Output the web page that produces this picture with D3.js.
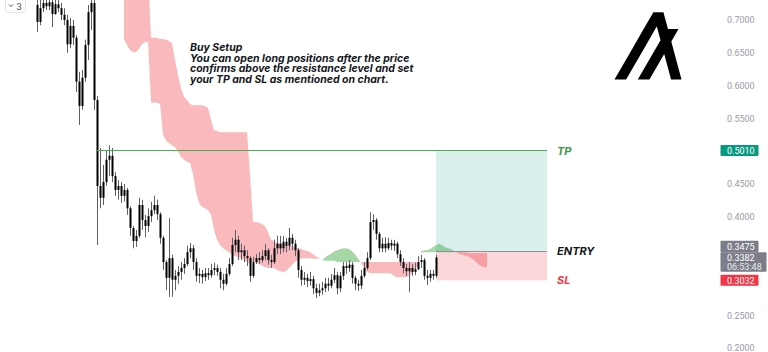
<!DOCTYPE html>
<html>
<head>
<meta charset="utf-8">
<script src="https://cdn.jsdelivr.net/npm/d3@7"></script>
<style>
  body { margin: 0; background: #fff; overflow: hidden; }
  svg { display: block; font-family: Roboto, "Noto Sans", sans-serif; }
</style>
</head>
<body>
<svg id="chart" width="768" height="352"></svg>
<script>
// candles, oldest first (ALGO)
const open = [0.723,0.697,0.718,0.726,0.721,0.727,0.709,0.724,0.718,0.708,
  0.700,0.663,0.691,0.673,0.606,0.569,0.612,0.662,0.712,0.726,
  0.578,0.447,0.429,0.453,0.487,0.493,0.462,0.441,0.447,0.432,
  0.441,0.413,0.383,0.363,0.371,0.418,0.395,0.386,0.401,0.410,
  0.418,0.404,0.368,0.331,0.307,0.337,0.304,0.310,0.316,0.322,
  0.328,0.346,0.352,0.331,0.310,0.313,0.308,0.314,0.311,0.319,
  0.322,0.316,0.304,0.298,0.313,0.328,0.357,0.365,0.346,0.349,
  0.340,0.337,0.310,0.331,0.337,0.334,0.340,0.349,0.334,0.331,
  0.352,0.359,0.352,0.362,0.356,0.368,0.359,0.349,0.319,0.304,
  0.307,0.302,0.305,0.291,0.284,0.288,0.291,0.298,0.295,0.304,
  0.311,0.291,0.310,0.325,0.322,0.327,0.307,0.298,0.295,0.310,
  0.322,0.337,0.392,0.395,0.374,0.352,0.359,0.352,0.360,0.356,
  0.359,0.343,0.331,0.322,0.317,0.322,0.316,0.320,0.331,0.334,
  0.310,0.307,0.313,0.310];
const high = [0.746,0.738,0.746,0.743,0.740,0.737,0.735,0.734,0.726,0.718,
  0.708,0.703,0.700,0.677,0.621,0.624,0.670,0.723,0.743,0.735,
  0.584,0.505,0.479,0.502,0.509,0.505,0.468,0.456,0.453,0.450,
  0.444,0.416,0.386,0.380,0.429,0.426,0.403,0.413,0.423,0.432,
  0.426,0.407,0.371,0.334,0.398,0.342,0.319,0.325,0.331,0.337,
  0.356,0.360,0.357,0.337,0.322,0.319,0.322,0.322,0.328,0.330,
  0.327,0.322,0.313,0.322,0.337,0.368,0.380,0.371,0.359,0.356,
  0.349,0.340,0.339,0.343,0.346,0.349,0.359,0.352,0.342,0.365,
  0.371,0.371,0.371,0.368,0.383,0.374,0.365,0.352,0.325,0.316,
  0.313,0.316,0.310,0.298,0.298,0.301,0.307,0.307,0.313,0.322,
  0.316,0.316,0.331,0.331,0.334,0.331,0.310,0.304,0.319,0.331,
  0.346,0.407,0.404,0.398,0.377,0.368,0.369,0.368,0.365,0.365,
  0.362,0.349,0.337,0.328,0.331,0.328,0.330,0.340,0.342,0.337,
  0.319,0.319,0.319,0.342];
const low = [0.682,0.692,0.712,0.715,0.715,0.689,0.708,0.712,0.700,0.692,
  0.650,0.657,0.662,0.590,0.540,0.563,0.606,0.639,0.685,0.563,
  0.357,0.413,0.418,0.447,0.462,0.453,0.432,0.426,0.421,0.423,
  0.403,0.371,0.352,0.354,0.368,0.380,0.369,0.377,0.392,0.404,
  0.395,0.359,0.319,0.288,0.278,0.278,0.288,0.298,0.304,0.313,
  0.325,0.337,0.319,0.301,0.299,0.298,0.302,0.304,0.307,0.311,
  0.310,0.291,0.288,0.295,0.310,0.325,0.346,0.334,0.334,0.331,
  0.325,0.301,0.307,0.328,0.328,0.330,0.334,0.327,0.322,0.328,
  0.343,0.343,0.346,0.346,0.349,0.349,0.340,0.307,0.295,0.296,
  0.293,0.295,0.282,0.276,0.279,0.281,0.285,0.287,0.291,0.299,
  0.282,0.285,0.304,0.313,0.316,0.298,0.288,0.287,0.290,0.307,
  0.319,0.334,0.380,0.365,0.346,0.346,0.346,0.349,0.349,0.348,
  0.337,0.325,0.314,0.310,0.285,0.310,0.311,0.319,0.322,0.304,
  0.296,0.301,0.304,0.307];
const close = [0.697,0.718,0.726,0.721,0.727,0.709,0.724,0.718,0.708,0.700,
  0.663,0.691,0.673,0.606,0.569,0.612,0.662,0.712,0.726,0.578,
  0.447,0.429,0.453,0.487,0.493,0.462,0.441,0.447,0.432,0.441,
  0.413,0.383,0.363,0.371,0.418,0.395,0.386,0.401,0.410,0.418,
  0.404,0.368,0.331,0.307,0.337,0.304,0.310,0.316,0.322,0.328,
  0.346,0.352,0.331,0.310,0.313,0.308,0.314,0.311,0.319,0.322,
  0.316,0.304,0.298,0.313,0.328,0.357,0.365,0.346,0.349,0.340,
  0.337,0.310,0.331,0.337,0.334,0.340,0.349,0.334,0.331,0.352,
  0.359,0.352,0.362,0.356,0.368,0.359,0.349,0.319,0.304,0.307,
  0.302,0.305,0.291,0.284,0.288,0.291,0.298,0.295,0.304,0.311,
  0.291,0.310,0.325,0.322,0.327,0.307,0.298,0.295,0.310,0.322,
  0.337,0.392,0.395,0.374,0.352,0.359,0.352,0.360,0.356,0.359,
  0.343,0.331,0.322,0.317,0.322,0.316,0.320,0.331,0.334,0.310,
  0.307,0.313,0.310,0.338];

// ichimoku cloud (leading spans), first value sits at bar index cloudStart
const cloudStart = 29;
const spanA = [0.670,0.662,0.654,0.651,0.651,0.656,0.663,0.666,0.666,
  0.574,0.574,0.574,0.572,
  0.525,0.516,0.512,0.509,0.506,0.499,0.491,0.487,0.484,0.482,
  0.464,0.438,0.421,0.415,0.413,0.410,0.403,0.380,0.365,
  0.357,0.352,0.349,0.346,0.343,0.340,0.339,0.337,0.334,0.331,
  0.328,0.331,0.331,0.328,0.325,0.323,0.322,0.322,0.322,0.319,
  0.317,0.316,0.317,0.322,0.327,0.331,0.334,0.336,0.337,0.337,
  0.337,0.336,0.336,0.336,0.334,
  0.338,0.341,0.344,0.347,0.349,0.351,0.352,0.352,0.351,0.348,0.343,0.337,0.330,
  0.322,0.316,0.314,0.314,0.314,0.314,0.314,0.314,0.314,0.313,
  0.310,0.308,0.308,0.308,0.308,0.310,0.313,0.319,0.325,
  0.348,0.349,0.349,0.351,0.354,0.357,0.359,0.357,0.354,0.352,0.351,0.348,
  0.345,0.343,0.342,0.340,0.339,0.336,0.333,0.328,0.325,0.323,0.323];
const spanB = [0.776,0.776,0.776,0.776,0.776,0.776,0.776,0.776,0.776,
  0.673,0.673,0.673,0.671,0.671,0.670,0.668,0.665,0.639,0.616,
  0.596,0.583,0.578,0.572,0.570,0.570,0.570,0.570,0.569,0.566,
  0.548,0.532,0.531,
  0.529,0.529,0.529,0.529,0.529,0.529,0.529,0.529,0.529,0.529,
  0.464,0.392,0.392,0.391,0.389,0.386,0.377,0.365,0.363,0.360,
  0.359,0.359,0.357,0.357,0.356,0.354,0.352,0.351,0.349,0.348,
  0.346,0.343,0.340,0.337,0.334,
  0.333,0.333,0.333,0.333,
  0.331,0.331,0.331,0.331,0.331,0.331,0.331,0.331,0.331,
  0.331,0.331,0.331,0.331,0.331,0.331,0.331,0.331,0.331,0.331,
  0.331,0.331,0.331,0.331,0.331,0.331,0.331,0.331,0.331,
  0.346,0.346,0.346,0.346,0.346,0.346,0.346,0.346,
  0.346,0.346,0.346,0.346,0.346,0.346,0.346,0.346,
  0.345,0.345,0.345,0.345,0.345,0.345,0.345];

// long position tool
const tpPrice = 0.5010;
const entryPrice = 0.3475;
const slPrice = 0.3032;
const lastPrice = 0.3382;
const countdown = '06:53:48';
const tpLineStart = 20;
const positionStart = 133;
const positionEnd = 170;

const axisTicks = [0.20, 0.25, 0.40, 0.45, 0.55, 0.60, 0.65, 0.70];
const note = ['Buy Setup',
  'You can open long positions after the price',
  'confirms above the resistance level and set',
  'your TP and SL as mentioned on chart.'];

const svg = d3.select('#chart');
const x = d3.scaleLinear().domain([0, 170]).range([37, 547]);
const y = d3.scaleLinear().domain([0.2, 0.7]).range([348, 20]);
const fmt = d3.format('.4f');

// cloud: pink where span B is on top, green where span A is on top
const cloud = spanA.map((a, k) => ({ i: k + cloudStart, a: a, b: spanB[k] }));
const defs = svg.append('defs');
defs.append('clipPath').attr('id', 'above-a').append('path')
  .attr('d', d3.area().x(d => x(d.i)).y0(-60).y1(d => y(d.a))(cloud));
defs.append('clipPath').attr('id', 'below-a').append('path')
  .attr('d', d3.area().x(d => x(d.i)).y0(d => y(d.a)).y1(420)(cloud));
const band = d3.area().x(d => x(d.i)).y0(d => y(d.a)).y1(d => y(d.b));
svg.append('path').attr('d', band(cloud)).attr('fill', '#f9b9bd').attr('clip-path', 'url(#above-a)');
svg.append('path').attr('d', band(cloud)).attr('fill', '#a6d7a7').attr('clip-path', 'url(#below-a)');

// position boxes
svg.append('rect')
  .attr('x', x(positionStart)).attr('y', y(tpPrice))
  .attr('width', x(positionEnd) - x(positionStart)).attr('height', y(entryPrice) - y(tpPrice))
  .attr('fill', 'rgba(8,153,129,0.15)');
svg.append('rect')
  .attr('x', x(positionStart)).attr('y', y(entryPrice))
  .attr('width', x(positionEnd) - x(positionStart)).attr('height', y(slPrice) - y(entryPrice))
  .attr('fill', 'rgba(242,54,69,0.2)');

// candles
const bars = close.map((c, i) => ({ i: i, o: open[i], h: high[i], l: low[i], c: c }));
svg.append('g').selectAll('line').data(bars).join('line')
  .attr('x1', d => x(d.i) + 0.5).attr('x2', d => x(d.i) + 0.5)
  .attr('y1', d => y(d.h)).attr('y2', d => y(d.l))
  .attr('stroke', '#5d6068').attr('stroke-width', 1);
svg.append('g').selectAll('rect').data(bars).join('rect')
  .attr('x', d => x(d.i) - 0.5)
  .attr('y', d => y(Math.max(d.o, d.c)))
  .attr('width', 2)
  .attr('height', d => Math.max(1, Math.abs(y(d.o) - y(d.c))))
  .attr('fill', '#000');

// levels
svg.append('line')
  .attr('x1', x(tpLineStart)).attr('x2', x(positionEnd))
  .attr('y1', Math.round(y(tpPrice)) - 0.5).attr('y2', Math.round(y(tpPrice)) - 0.5)
  .attr('stroke', '#4caf50').attr('stroke-width', 1.2);
svg.append('line')
  .attr('x1', x(positionStart)).attr('x2', x(positionEnd))
  .attr('y1', Math.round(y(entryPrice)) + 0.5).attr('y2', Math.round(y(entryPrice)) + 0.5)
  .attr('stroke', '#8f929a').attr('stroke-width', 1);

const tags = [
  { t: 'TP', p: tpPrice, c: '#3a9a46' },
  { t: 'ENTRY', p: entryPrice, c: '#131722' },
  { t: 'SL', p: slPrice, c: '#f23645' }
];
svg.append('g').selectAll('text').data(tags).join('text')
  .attr('x', x(positionEnd) + 10).attr('y', d => y(d.p) + 4)
  .attr('fill', d => d.c)
  .style('font', 'italic 700 11px Inter, "Noto Sans", sans-serif')
  .text(d => d.t);

// annotation
const txt = svg.append('text')
  .attr('x', 190).attr('y', 51)
  .attr('fill', '#131722')
  .style('font', 'italic 700 10.5px Inter, "Noto Sans", sans-serif');
txt.selectAll('tspan').data(note).join('tspan')
  .attr('x', 190).attr('dy', (d, i) => i === 0 ? 0 : 10.7)
  .text(d => d);

// price axis
const axis = svg.append('g')
  .attr('transform', 'translate(720,0)')
  .call(d3.axisRight(y).tickValues(axisTicks).tickSize(0).tickPadding(7).tickFormat(fmt));
axis.select('.domain').remove();
axis.selectAll('text').attr('fill', '#9a9da6').style('font-size', '9px').style('font-family', 'Roboto, sans-serif');

// price badges (entry badge is pushed up so it clears the last-price badge)
function badge(top, w, h, color) {
  svg.append('rect').attr('x', 720.5).attr('y', top).attr('width', w).attr('height', h)
    .attr('rx', 1).attr('fill', color);
}
function badgeText(base, s, color) {
  svg.append('text').attr('x', 727).attr('y', base).attr('fill', color)
    .style('font', '9px Roboto, sans-serif').text(s);
}
badge(y(tpPrice) - 5.5, 38, 11, '#089981');
badgeText(y(tpPrice) + 3.2, fmt(tpPrice), '#fff');

badge(y(lastPrice) - 5, 46, 19.5, '#7b7e88');
badgeText(y(lastPrice) + 3.2, fmt(lastPrice), '#fff');
badgeText(y(lastPrice) + 13, countdown, '#e8e9ec');

badge(y(lastPrice) - 16.6, 38, 11.6, '#7b7e88');
badgeText(y(lastPrice) - 7.6, fmt(entryPrice), '#fff');

badge(y(slPrice) - 5.5, 38, 11, '#f23645');
badgeText(y(slPrice) + 3.2, fmt(slPrice), '#fff');

// symbol logo
svg.append('polygon')
  .attr('transform', 'translate(614.5,12.3) scale(0.593)')
  .attr('points', '19.6 113.4 36 85 52.4 56.7 68.7 28.3 71.4 23.8 72.6 28.3 77.6 47 72 56.7 55.6 85 39.3 113.4 58.9 113.4 75.3 85 83.8 70.3 87.8 85 95.4 113.4 113 113.4 105.4 85 97.8 56.7 95.8 49.4 108 28.3 90.2 28.3 89.6 26.2 83.4 3.2 82.6 0 65.5 0 65.1 0.6 49.1 28.3 32.7 56.7 16.4 85 0 113.4 19.6 113.4')
  .attr('fill', '#000');

// collapsed indicator button
svg.append('rect').attr('x', 5.5).attr('y', -6).attr('width', 20).attr('height', 18.5).attr('rx', 3)
  .attr('fill', '#fff').attr('stroke', '#e0e3eb');
svg.append('path').attr('d', 'M9,4.5 L11,6.5 L13,4.5').attr('fill', 'none').attr('stroke', '#50535e').attr('stroke-width', 1);
svg.append('text').attr('x', 16.5).attr('y', 9.5).attr('fill', '#50535e')
  .style('font', '9.5px Roboto, sans-serif').text('3');
</script>
</body>
</html>
